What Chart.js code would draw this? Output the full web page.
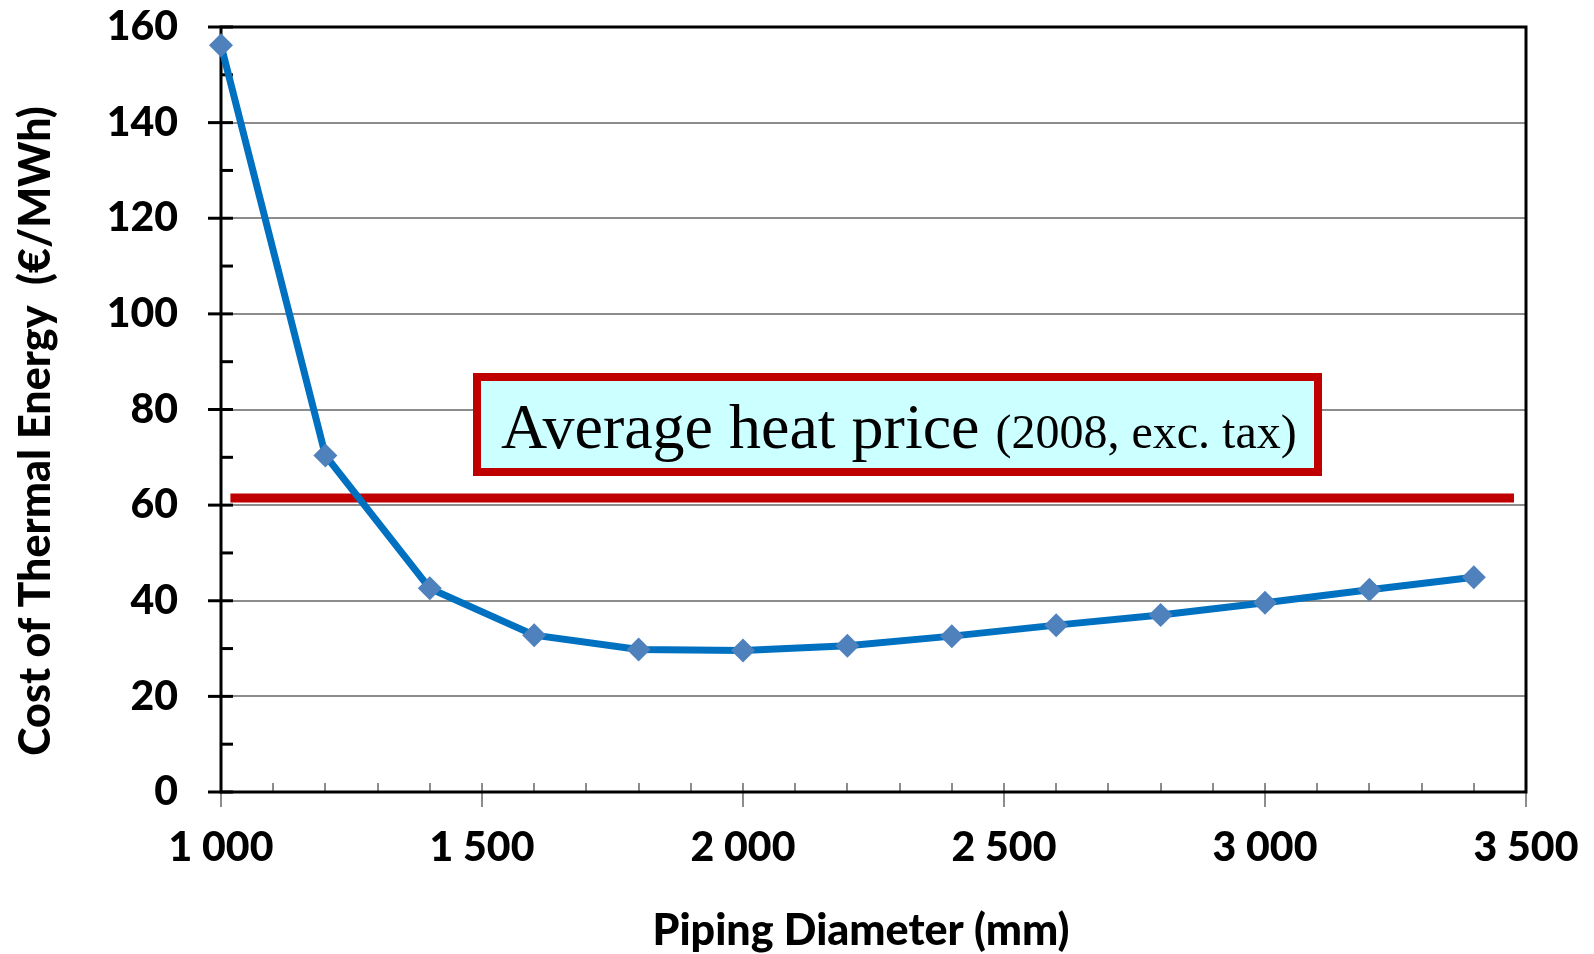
<!DOCTYPE html>
<html>
<head>
<meta charset="utf-8">
<script src="https://cdn.jsdelivr.net/npm/chart.js@4.4.1/dist/chart.umd.min.js"></script>
<style>
html,body{margin:0;padding:0;background:#fff;}
#wrap{width:1594px;height:954px;position:relative;}
</style>
</head>
<body>
<div id="wrap"><canvas id="c" width="1594" height="954"></canvas></div>
<script>
// ---- data ----
const diameters = [1000, 1200, 1400, 1600, 1800, 2000, 2200, 2400, 2600, 2800, 3000, 3200, 3400];
const costs = [156.2, 70.4, 42.6, 32.8, 29.8, 29.6, 30.6, 32.6, 34.9, 37.0, 39.6, 42.3, 44.9];
const heatPriceX = [1018, 3477];
const heatPriceY = [61.5, 61.5];
const xTicks = [1000, 1500, 2000, 2500, 3000, 3500];
const yTicks = [0, 20, 40, 60, 80, 100, 120, 140, 160];
const boxLabelMain = 'Average heat price';
const boxLabelSub = '(2008, exc. tax)';
const xTitle = 'Piping Diameter (mm)';
const yTitle = 'Cost of Thermal Energy  (€/MWh)';

const fmt = v => String(v).replace(/\B(?=(\d{3})+(?!\d))/g, ' ');
const titleFontCss = '900 43px Lato';

const framePlugin = {
  id: 'frame',
  beforeDatasetsDraw(chart) {
    const {ctx, chartArea: a, scales: {x, y}} = chart;
    ctx.save();
    ctx.strokeStyle = '#8c8c8c';
    ctx.lineWidth = 2;
    for (let v = 1000; v <= 3500; v += 100) {
      const px = Math.round(x.getPixelForValue(v));
      const major = xTicks.includes(v);
      ctx.beginPath();
      ctx.moveTo(px, a.bottom - 9);
      ctx.lineTo(px, major ? a.bottom + 15 : a.bottom);
      ctx.stroke();
    }
    ctx.strokeStyle = '#000';
    ctx.lineWidth = 3;
    for (let v = 0; v <= 160; v += 10) {
      const py = y.getPixelForValue(v);
      const major = yTicks.includes(v);
      ctx.beginPath();
      ctx.moveTo(major ? a.left - 13 : a.left, py);
      ctx.lineTo(a.left + 12, py);
      ctx.stroke();
    }
    ctx.lineWidth = 3;
    ctx.strokeStyle = '#000';
    ctx.strokeRect(a.left, a.top, a.right - a.left, a.bottom - a.top);

    // axis titles
    ctx.fillStyle = '#000';
    ctx.font = titleFontCss;
    ctx.textAlign = 'center';
    ctx.textBaseline = 'middle';
    ctx.fillText(xTitle, 861, 931);
    ctx.translate(36, 431);
    ctx.rotate(-Math.PI / 2);
    ctx.fillText(yTitle, 0, 0);
    ctx.restore();
  },
  afterDatasetsDraw(chart) {
    const {ctx} = chart;
    const bx = 473, by = 373, bw = 849, bh = 103;
    ctx.save();
    ctx.fillStyle = '#CCFFFF';
    ctx.fillRect(bx, by, bw, bh);
    ctx.strokeStyle = '#C00000';
    ctx.lineWidth = 8;
    ctx.strokeRect(bx + 4, by + 4, bw - 8, bh - 8);
    ctx.fillStyle = '#000';
    ctx.textBaseline = 'alphabetic';
    ctx.font = '64px "Liberation Serif", "Times New Roman", serif';
    ctx.fillText(boxLabelMain, 501, 448);
    const w = ctx.measureText(boxLabelMain + ' ').width;
    ctx.font = '48px "Liberation Serif", "Times New Roman", serif';
    ctx.fillText(boxLabelSub, 501 + w, 448);
    ctx.restore();
  }
};

const tickFont = {family: 'Lato', weight: 900, size: 41, lineHeight: 1.2};

new Chart(document.getElementById('c'), {
  type: 'scatter',
  data: {
    datasets: [
      {
        data: heatPriceX.map((v, i) => ({x: v, y: heatPriceY[i]})),
        showLine: true,
        borderColor: '#C00000',
        borderWidth: 9,
        pointRadius: 0,
        order: 2
      },
      {
        data: diameters.map((v, i) => ({x: v, y: costs[i]})),
        showLine: true,
        borderColor: '#0070C0',
        borderWidth: 7,
        pointStyle: 'rectRot',
        pointRadius: 12,
        pointBackgroundColor: '#4F81BD',
        pointBorderColor: '#4F81BD',
        pointBorderWidth: 0,
        order: 1
      }
    ]
  },
  options: {
    responsive: false,
    animation: false,
    clip: false,
    layout: {padding: {top: 27, right: 68, left: 0, bottom: 0}},
    plugins: {legend: {display: false}, tooltip: {enabled: false}},
    scales: {
      x: {
        type: 'linear',
        min: 1000, max: 3500,
        afterBuildTicks: s => { s.ticks = xTicks.map(v => ({value: v})); },
        afterFit: s => { s.height = 162; },
        grid: {display: true, drawOnChartArea: false, drawTicks: true, tickLength: 31, tickColor: 'rgba(0,0,0,0)', color: 'rgba(0,0,0,0)'},
        border: {display: false},
        ticks: {
          callback: v => fmt(v),
          color: '#000',
          padding: 0,
          maxRotation: 0,
          font: tickFont
        },
        title: {display: false, text: xTitle}
      },
      y: {
        min: 0, max: 160,
        afterBuildTicks: s => { s.ticks = yTicks.map(v => ({value: v})); },
        afterFit: s => { s.width = 221; },
        grid: {color: '#8c8c8c', lineWidth: 2, drawTicks: true, tickLength: 43, tickColor: 'rgba(0,0,0,0)'},
        border: {display: false},
        ticks: {
          color: '#000',
          padding: 0,
          font: tickFont
        },
        title: {display: false, text: yTitle}
      }
    }
  },
  plugins: [framePlugin]
});
</script>
</body>
</html>
